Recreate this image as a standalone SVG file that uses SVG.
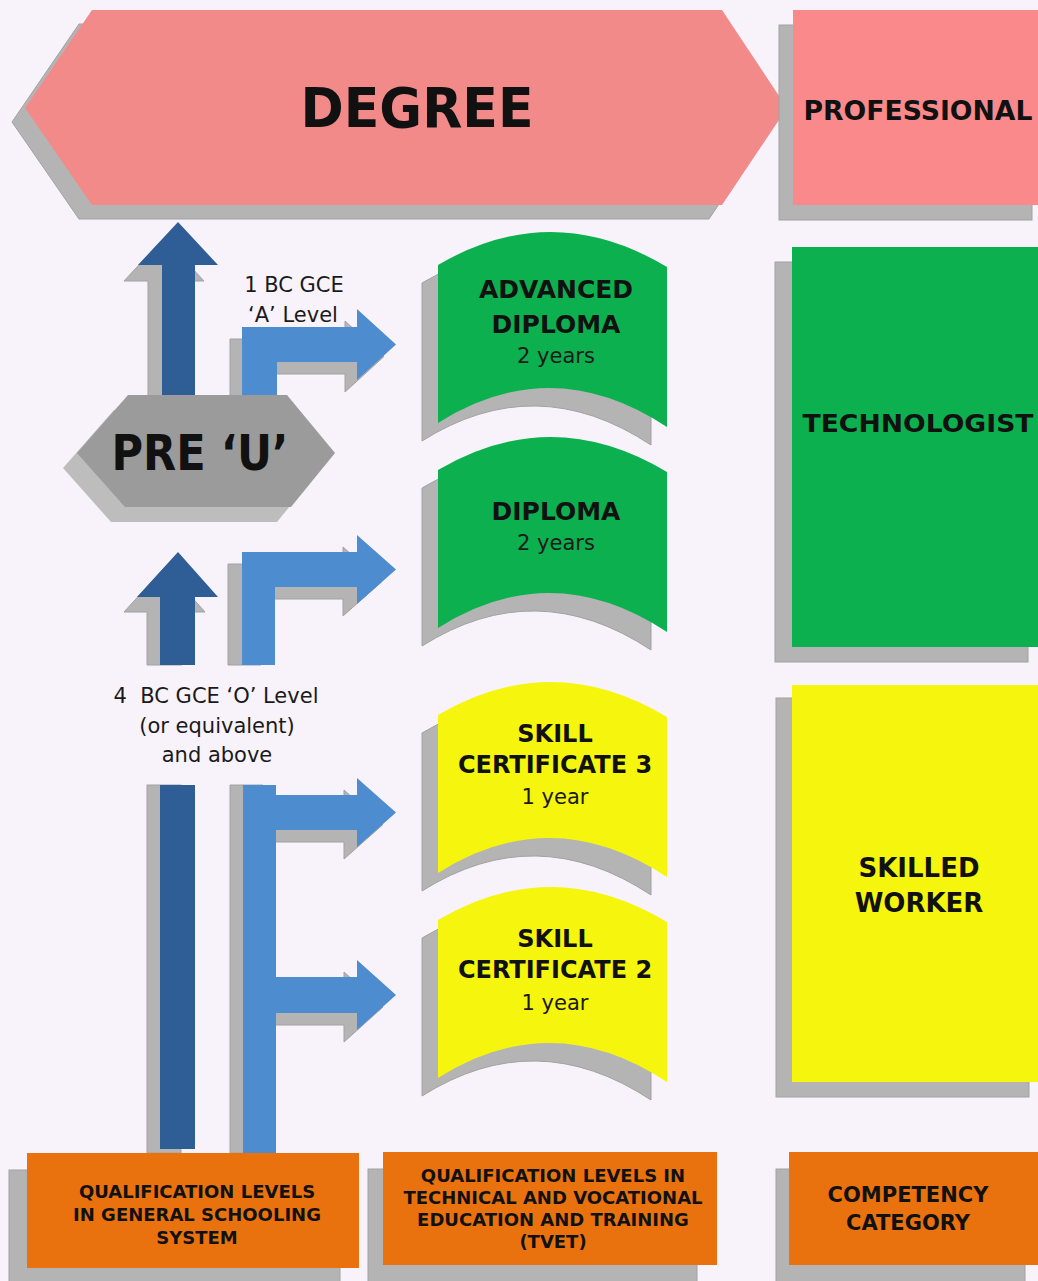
<svg xmlns="http://www.w3.org/2000/svg" width="1038" height="1281" viewBox="0 0 1038 1281">
<defs>
<style>
.bg{fill:#f8f3fa}
.sh{fill:#b4b4b4;stroke:#a2a2a2;stroke-width:1}
.pink{fill:#f38a8a}
.pink2{fill:#fa898b}
.green{fill:#0cb04f}
.yellow{fill:#f5f50e}
.orange{fill:#e9720f}
.dblue{fill:#2f5e97}
.lblue{fill:#4d8ccf}
.hex{fill:#9b9b9b}
.hexsh{fill:#bdbdbd}
.b{font-family:"DejaVu Sans","Verdana",sans-serif;font-weight:bold;fill:#111;text-anchor:middle}
.r{font-family:"DejaVu Sans","Verdana",sans-serif;fill:#1a1a1a;text-anchor:middle}
</style>
<path id="doc" d="M438,265 Q552,198 667,267 L667,427 Q552,351 438,423 Z"/>
</defs>
<rect class="bg" x="0" y="0" width="1038" height="1281"/>

<g id="degree">
<polygon class="sh" points="79,24 709,24 774,122 709,219 79,219 12,122"/>
<polygon class="pink" points="92,10 722,10 787,108 722,205 92,205 25,108"/>
<text class="b" x="417" y="127" font-size="56" textLength="233" lengthAdjust="spacingAndGlyphs">DEGREE</text>
</g>

<g id="professional">
<rect class="sh" x="779" y="25" width="253" height="195"/>
<rect class="pink2" x="793" y="10" width="260" height="195"/>
<text class="b" x="918" y="120" font-size="26" textLength="229" lengthAdjust="spacingAndGlyphs">PROFESSIONAL</text>
</g>

<g id="technologist">
<rect class="sh" x="775" y="262" width="253" height="400"/>
<rect class="green" x="792" y="247" width="260" height="400"/>
<text class="b" x="918" y="432" font-size="25" textLength="231" lengthAdjust="spacingAndGlyphs">TECHNOLOGIST</text>
</g>

<g id="skilled-worker">
<rect class="sh" x="776" y="698" width="253" height="399"/>
<rect class="yellow" x="792" y="685" width="260" height="397"/>
<text class="b" x="919" y="877" font-size="26">SKILLED</text>
<text class="b" x="919" y="912" font-size="26">WORKER</text>
</g>

<g id="connectors">
<polygon class="sh" points="164,238 204,281 181,281 181,400 148,400 148,281 124,281"/>
<polygon class="dblue" points="178,222 218,265 195,265 195,400 162,400 162,265 138,265"/>
<path class="sh" d="M230,400 L230,339 L345,339 L345,321 L384,356.5 L345,392 L345,374 L265,374 L265,400 Z"/>
<path class="lblue" d="M242,400 L242,327 L357,327 L357,309 L396,344.5 L357,380 L357,362 L277,362 L277,400 Z"/>
<polygon class="sh" points="165,567 205,612 182,612 182,665 147,665 147,612 124,612"/>
<polygon class="dblue" points="178,552 218,597 195,597 195,665 160,665 160,597 137,597"/>
<path class="sh" d="M228,665 L228,564 L343,564 L343,547 L382,581.5 L343,616 L343,599 L261,599 L261,665 Z"/>
<path class="lblue" d="M242,665 L242,552 L357,552 L357,535 L396,569.5 L357,604 L357,587 L275,587 L275,665 Z"/>
<rect class="sh" x="147" y="785" width="34" height="368"/>
<rect class="dblue" x="160" y="785" width="35" height="364"/>
<path class="sh" d="M230,1153 L230,785 L263,785 L263,807 L344,807 L344,790 L383,824.5 L344,859 L344,842 L263,842 L263,989 L344,989 L344,972 L383,1007 L344,1042 L344,1025 L263,1025 L263,1153 Z"/>
<path class="lblue" d="M243,1153 L243,785 L276,785 L276,795 L357,795 L357,778 L396,812.5 L357,847 L357,830 L276,830 L276,977 L357,977 L357,960 L396,995 L357,1030 L357,1013 L276,1013 L276,1153 Z"/>
</g>

<g id="label-a-level">
<text class="r" x="294" y="292" font-size="21">1 BC GCE</text>
<text class="r" x="293" y="322" font-size="21">‘A’ Level</text>
</g>

<g id="label-o-level">
<text class="r" x="216" y="703" font-size="21" xml:space="preserve">4  BC GCE ‘O’ Level</text>
<text class="r" x="217" y="733" font-size="21">(or equivalent)</text>
<text class="r" x="217" y="762" font-size="21">and above</text>
</g>

<g id="pre-u">
<polygon class="hexsh" points="114,410 273,410 321,468 277,522 111,522 63,468"/>
<polygon class="hex" points="128,395 287,395 335,453 291,507 125,507 77,453"/>
<text class="b" x="200" y="470" font-size="50" textLength="177" lengthAdjust="spacingAndGlyphs">PRE ‘U’</text>
</g>

<g id="advanced-diploma">
<use href="#doc" class="sh" transform="translate(-16,18)"/>
<use href="#doc" class="green"/>
<text class="b" x="556" y="298" font-size="25">ADVANCED</text>
<text class="b" x="556" y="333" font-size="25">DIPLOMA</text>
<text class="r" x="556" y="363" font-size="21">2 years</text>
</g>

<g id="diploma">
<use href="#doc" class="sh" transform="translate(-16,223)"/>
<use href="#doc" class="green" transform="translate(0,205)"/>
<text class="b" x="556" y="520" font-size="25">DIPLOMA</text>
<text class="r" x="556" y="550" font-size="21">2 years</text>
</g>

<g id="skill-certificate-3">
<use href="#doc" class="sh" transform="translate(-16,468)"/>
<use href="#doc" class="yellow" transform="translate(0,450)"/>
<text class="b" x="555" y="742" font-size="24">SKILL</text>
<text class="b" x="555" y="773" font-size="24">CERTIFICATE 3</text>
<text class="r" x="555" y="804" font-size="21">1 year</text>
</g>

<g id="skill-certificate-2">
<use href="#doc" class="sh" transform="translate(-16,673)"/>
<use href="#doc" class="yellow" transform="translate(0,655)"/>
<text class="b" x="555" y="947" font-size="24">SKILL</text>
<text class="b" x="555" y="978" font-size="24">CERTIFICATE 2</text>
<text class="r" x="555" y="1010" font-size="21">1 year</text>
</g>

<g id="general-schooling">
<rect class="sh" x="9" y="1170" width="331" height="120"/>
<rect class="orange" x="27" y="1153" width="332" height="115"/>
<text class="b" x="197" y="1198" font-size="18">QUALIFICATION LEVELS</text>
<text class="b" x="197" y="1221" font-size="18">IN GENERAL SCHOOLING</text>
<text class="b" x="197" y="1244" font-size="18">SYSTEM</text>
</g>

<g id="tvet">
<rect class="sh" x="368" y="1169" width="329" height="120"/>
<rect class="orange" x="383" y="1152" width="334" height="113"/>
<text class="b" x="553" y="1182" font-size="18">QUALIFICATION LEVELS IN</text>
<text class="b" x="553" y="1204" font-size="18">TECHNICAL AND VOCATIONAL</text>
<text class="b" x="553" y="1226" font-size="18">EDUCATION AND TRAINING</text>
<text class="b" x="553" y="1248" font-size="18">(TVET)</text>
</g>

<g id="competency">
<rect class="sh" x="776" y="1169" width="249" height="120"/>
<rect class="orange" x="789" y="1152" width="260" height="113"/>
<text class="b" x="908" y="1202" font-size="21">COMPETENCY</text>
<text class="b" x="908" y="1230" font-size="21">CATEGORY</text>
</g>
</svg>
